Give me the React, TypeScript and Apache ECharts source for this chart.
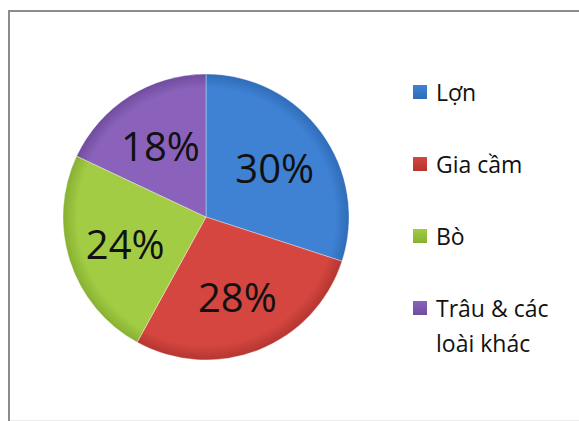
import React, { useEffect, useRef } from "react";
import * as echarts from "echarts";

const categories = ["Lợn", "Gia cầm", "Bò", "Trâu & các\nloài khác"];
const values = [30, 28, 24, 18];
const colors = ["#3f82d4", "#d4463f", "#a2cc44", "#8a62bc"];
const rimColors = ["#2f6cb8", "#b53530", "#86b031", "#704c9e"];

const CX = 206;
const CY = 217;
const R = 143;

export default function App() {
  const ref = useRef<HTMLDivElement>(null);
  useEffect(() => {
    if (!ref.current) return;
    const chart = echarts.init(ref.current, null, { renderer: "svg" });
    const data = categories.map((name, i) => ({
      name,
      value: values[i],
      itemStyle: {
        color: {
          type: "radial",
          x: CX,
          y: CY,
          r: R,
          global: true,
          colorStops: [
            { offset: 0, color: colors[i] },
            { offset: 0.9, color: colors[i] },
            { offset: 1, color: rimColors[i] },
          ],
        },
      },
    }));
    const legendItems: any[] = [];
    categories.forEach((name, i) => {
      const cy = 92 + i * 72;
      legendItems.push({
        type: "rect",
        shape: { x: 413, y: cy - 7, width: 14, height: 14 },
        style: {
          fill: {
            type: "linear",
            x: 0,
            y: 0,
            x2: 0,
            y2: 1,
            colorStops: [
              { offset: 0, color: colors[i] },
              { offset: 1, color: rimColors[i] },
            ],
          },
        },
      });
      legendItems.push({
        type: "text",
        x: 436,
        y: cy - 17.5,
        style: {
          text: name,
          fill: "#111",
          font: '23px "Open Sans", sans-serif',
          lineHeight: 35,
          textVerticalAlign: "top",
          verticalAlign: "top",
        },
      });
    });
    chart.setOption({
      animation: false,
      backgroundColor: "#ffffff",
      graphic: [
        {
          type: "polyline",
          shape: { points: [[9, 430], [9, 11], [600, 11]] },
          style: { fill: "none", stroke: "#8c8c8c", lineWidth: 2 },
          silent: true,
        },
        {
          type: "line",
          shape: { x1: 10, y1: 420.5, x2: 600, y2: 420.5 },
          style: { stroke: "#ececec", lineWidth: 1 },
          silent: true,
        },
        ...legendItems,
      ],
      series: [
        {
          type: "pie",
          center: [CX, CY],
          radius: R,
          startAngle: 90,
          clockwise: true,
          label: { show: false },
          labelLine: { show: false },
          itemStyle: { borderColor: "rgba(255,255,255,0.35)", borderWidth: 1 },
          data,
          silent: true,
        },
        {
          type: "pie",
          center: [CX, CY],
          radius: 164,
          startAngle: 90,
          clockwise: true,
          itemStyle: { color: "rgba(0,0,0,0)" },
          label: {
            show: true,
            position: "inside",
            formatter: "{c}%",
            color: "#111",
            fontSize: 40,
            fontFamily: '"Open Sans", sans-serif',
          },
          labelLine: { show: false },
          data: categories.map((name, i) => ({ name, value: values[i] })),
          silent: true,
          z: 3,
        },
      ],
    });
    return () => chart.dispose();
  }, []);
  return (
    <div
      ref={ref}
      style={{ position: "absolute", left: 0, top: 0, width: 579, height: 421 }}
    />
  );
}
